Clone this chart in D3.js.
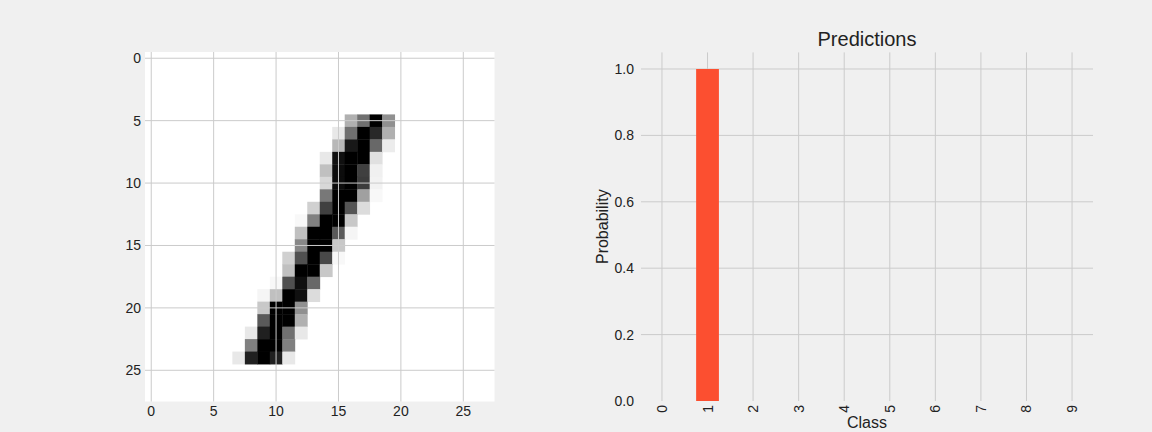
<!DOCTYPE html>
<html>
<head>
<meta charset="utf-8">
<script src="https://cdn.jsdelivr.net/npm/d3@7"></script>
<style>
  html, body { margin: 0; padding: 0; background: #f0f0f0; }
  svg { display: block; }
  text { font-family: "Liberation Sans", Arial, sans-serif; fill: #222; }
</style>
</head>
<body>
<svg id="chart" width="1152" height="432"></svg>
<script>
// ---- Data ----
// Digit image (28x28, ink 0-255). Each entry: row index, first non-zero column, values.
const imageSize = 28;
const digitRows = [
  { row: 5,  start: 16, values: [79, 143, 255, 111] },
  { row: 6,  start: 15, values: [23, 143, 255, 215, 79] },
  { row: 7,  start: 15, values: [71, 231, 255, 151, 19] },
  { row: 8,  start: 14, values: [23, 239, 255, 255, 31] },
  { row: 9,  start: 14, values: [63, 243, 255, 191, 15] },
  { row: 10, start: 14, values: [39, 243, 255, 195, 13] },
  { row: 11, start: 14, values: [135, 255, 255, 95, 7] },
  { row: 12, start: 13, values: [47, 191, 255, 170, 35] },
  { row: 13, start: 12, values: [7, 127, 255, 255, 55] },
  { row: 14, start: 12, values: [63, 255, 255, 165, 10] },
  { row: 15, start: 12, values: [120, 255, 255, 55] },
  { row: 16, start: 11, values: [47, 175, 255, 183, 7] },
  { row: 17, start: 11, values: [63, 255, 255, 55] },
  { row: 18, start: 10, values: [7, 175, 240, 151] },
  { row: 19, start: 9,  values: [10, 63, 255, 239, 35] },
  { row: 20, start: 9,  values: [55, 255, 255, 111] },
  { row: 21, start: 9,  values: [165, 255, 255, 79] },
  { row: 22, start: 8,  values: [23, 223, 255, 143, 23] },
  { row: 23, start: 8,  values: [127, 255, 255, 127] },
  { row: 24, start: 7,  values: [23, 223, 255, 223, 23] }
];
const imageTicks = [0, 5, 10, 15, 20, 25];

// Predictions
const classes = [0, 1, 2, 3, 4, 5, 6, 7, 8, 9];
const probabilities = [0, 1, 0, 0, 0, 0, 0, 0, 0, 0];
const probTicks = [0.0, 0.2, 0.4, 0.6, 0.8, 1.0];
const chartTitle = "Predictions";
const xLabel = "Class";
const yLabel = "Probability";

// ---- Drawing ----
const svg = d3.select("#chart");
const gridColor = "#cbcbcb";
const barColor = "#fc4f30";

// Left: image panel
const L = { left: 145, right: 494.5, top: 52, bottom: 401.5 };
const ix = d3.scaleLinear().domain([-0.5, imageSize - 0.5]).range([L.left, L.right]);
const iy = d3.scaleLinear().domain([-0.5, imageSize - 0.5]).range([L.top, L.bottom]);

svg.append("rect")
  .attr("x", L.left).attr("y", L.top)
  .attr("width", L.right - L.left).attr("height", L.bottom - L.top)
  .attr("fill", "#ffffff");

const pixels = [];
digitRows.forEach(r => r.values.forEach((v, i) => pixels.push({ row: r.row, col: r.start + i, v })));

svg.append("g").selectAll("rect").data(pixels).join("rect")
  .attr("x", d => ix(d.col - 0.5))
  .attr("y", d => iy(d.row - 0.5))
  .attr("width", d => ix(d.col + 0.5) - ix(d.col - 0.5) + 0.4)
  .attr("height", d => iy(d.row + 0.5) - iy(d.row - 0.5) + 0.4)
  .attr("fill", d => { const g = 255 - d.v; return `rgb(${g},${g},${g})`; });

const lg = svg.append("g");
lg.selectAll("line.vx").data(imageTicks).join("line")
  .attr("x1", d => ix(d)).attr("x2", d => ix(d))
  .attr("y1", L.top).attr("y2", L.bottom)
  .attr("stroke", gridColor).attr("stroke-width", 1);
lg.selectAll("line.hy").data(imageTicks).join("line")
  .attr("y1", d => iy(d)).attr("y2", d => iy(d))
  .attr("x1", L.left).attr("x2", L.right)
  .attr("stroke", gridColor).attr("stroke-width", 1);

lg.selectAll("text.xt").data(imageTicks).join("text")
  .attr("x", d => ix(d)).attr("y", 416)
  .attr("text-anchor", "middle").attr("font-size", 14)
  .text(d => d);
lg.selectAll("text.yt").data(imageTicks).join("text")
  .attr("x", 141).attr("y", d => iy(d))
  .attr("text-anchor", "end").attr("dominant-baseline", "central").attr("font-size", 14)
  .text(d => d);

// Right: bar chart
const R = { left: 641, right: 1093, top: 52.4, bottom: 401 };
const bx = d3.scaleLinear().domain([-0.46, 9.46]).range([R.left, R.right]);
const by = d3.scaleLinear().domain([0, 1.05]).range([R.bottom, R.top]);
const barWidth = 0.5;

const rg = svg.append("g");
rg.selectAll("line.v").data(classes).join("line")
  .attr("x1", d => bx(d)).attr("x2", d => bx(d))
  .attr("y1", R.top).attr("y2", R.bottom)
  .attr("stroke", gridColor).attr("stroke-width", 1);
rg.selectAll("line.h").data(probTicks.filter(t => t > 0)).join("line")
  .attr("y1", d => by(d)).attr("y2", d => by(d))
  .attr("x1", R.left).attr("x2", R.right)
  .attr("stroke", gridColor).attr("stroke-width", 1);

rg.selectAll("rect.bar").data(classes).join("rect")
  .attr("x", (d) => bx(d - barWidth / 2))
  .attr("width", bx(barWidth) - bx(0))
  .attr("y", (d, i) => by(probabilities[i]))
  .attr("height", (d, i) => by(0) - by(probabilities[i]))
  .attr("fill", barColor);

rg.selectAll("text.yt").data(probTicks).join("text")
  .attr("x", 634).attr("y", d => by(d))
  .attr("text-anchor", "end").attr("dominant-baseline", "central").attr("font-size", 14)
  .text(d => d3.format(".1f")(d));

rg.selectAll("text.xt").data(classes).join("text")
  .attr("transform", d => `translate(${bx(d)},405) rotate(-90)`)
  .attr("text-anchor", "end").attr("dominant-baseline", "central").attr("font-size", 14)
  .text(d => d);

svg.append("text")
  .attr("x", (R.left + R.right) / 2).attr("y", 46)
  .attr("text-anchor", "middle").attr("font-size", 20)
  .text(chartTitle);

svg.append("text")
  .attr("x", (R.left + R.right) / 2).attr("y", 428)
  .attr("text-anchor", "middle").attr("font-size", 16)
  .text(xLabel);

svg.append("text")
  .attr("transform", `translate(608,${(R.top + R.bottom) / 2}) rotate(-90)`)
  .attr("text-anchor", "middle").attr("font-size", 16)
  .text(yLabel);
</script>
</body>
</html>
